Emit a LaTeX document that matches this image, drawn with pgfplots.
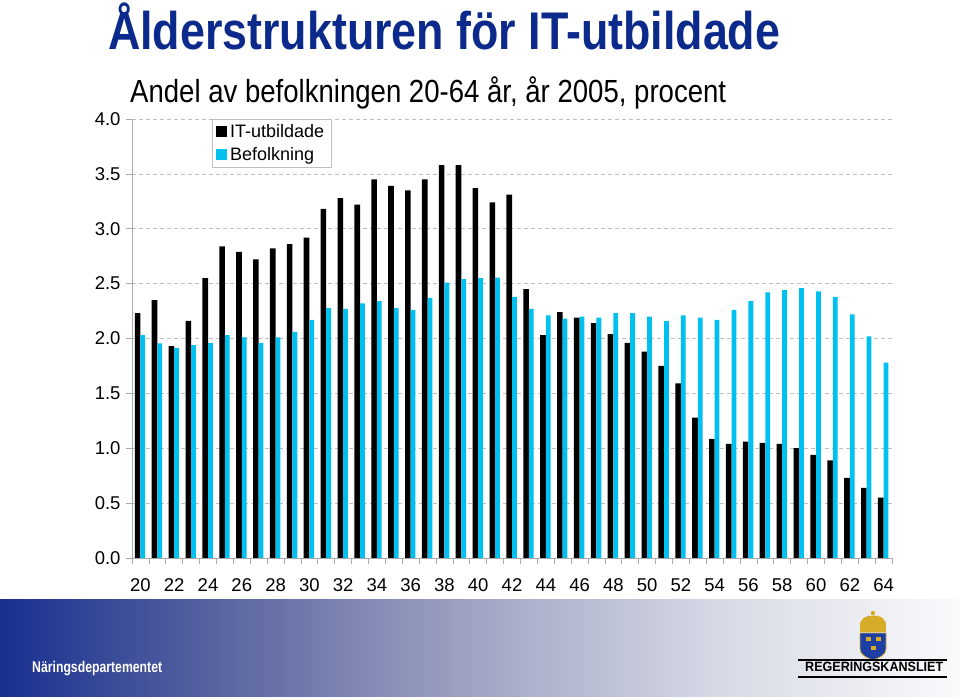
\documentclass[border=0pt]{standalone}
\usepackage{fontspec}
\setmainfont{Liberation Sans}
\usepackage{graphicx}
\usepackage{pgfplots}
\pgfplotsset{compat=1.18}
\definecolor{titleblue}{RGB}{12,42,140}
\definecolor{befcyan}{RGB}{0,192,240}
\definecolor{gridgray}{RGB}{192,192,192}
\definecolor{axisgray}{RGB}{170,170,170}
\definecolor{fA}{RGB}{25,48,145}
\definecolor{fB}{RGB}{95,105,162}
\definecolor{fC}{RGB}{162,166,196}
\definecolor{fD}{RGB}{215,218,229}
\definecolor{fE}{RGB}{250,250,252}
\definecolor{gold}{RGB}{214,172,40}
\definecolor{shieldblue}{RGB}{28,62,165}
\begin{document}
\begin{tikzpicture}[x=1bp,y=1bp]
\path[use as bounding box] (0,0) rectangle (960,700);
% footer band
\shade[left color=fA, right color=fB] (0,3) rectangle (240.6,100);
\shade[left color=fB, right color=fC] (240,3) rectangle (480.6,100);
\shade[left color=fC, right color=fD] (480,3) rectangle (720.6,100);
\shade[left color=fD, right color=fE] (720,3) rectangle (960,100);
\node[anchor=base west, inner sep=0, text=white] at (32,27)
  {\resizebox{130bp}{\height}{\fontsize{15.5bp}{17bp}\selectfont\bfseries Näringsdepartementet}};
% logo
\fill[gold] (860,68) rectangle (886,73);
\fill[gold] (860,72.5) .. controls (859,82) and (866,84.5) .. (873,84.5) .. controls (880,84.5) and (887,82) .. (886,72.5) -- cycle;
\fill[gold] (873,87) circle (2.2);
\fill[shieldblue, draw=gold, line width=0.8] (860,67) -- (886,67) -- (886,51) .. controls (886,45) and (879,42) .. (873,40) .. controls (867,42) and (860,45) .. (860,51) -- cycle;
\fill[gold] (865.5,59) rectangle +(5,4);
\fill[gold] (875.5,59) rectangle +(5,4);
\fill[gold] (870.5,50) rectangle +(5,4);
\draw[line width=1.3] (798,40) -- (947,40);
\draw[line width=1.3] (798,23) -- (947,23);
\node[anchor=base west, inner sep=0] at (805,28)
  {\resizebox{138bp}{\height}{\fontsize{13.5bp}{15bp}\selectfont\bfseries REGERINGSKANSLIET}};
% titles
\node[anchor=base west, inner sep=0, text=titleblue] at (108,650)
  {\resizebox{672bp}{\height}{\fontsize{53bp}{60bp}\selectfont\bfseries Ålderstrukturen för IT-utbildade}};
\node[anchor=base west, inner sep=0] at (130,597)
  {\resizebox{596bp}{\height}{\fontsize{32bp}{36bp}\selectfont Andel av befolkningen 20-64 år, år 2005, procent}};
\begin{axis}[
  at={(132bp,142bp)}, anchor=south west,
  scale only axis, width=760bp, height=439bp,
  xmin=19.5, xmax=64.5, ymin=0, ymax=4,
  axis x line*=bottom, axis y line*=left,
  axis line style={draw=axisgray, line width=0.7bp, -},
  ytick={0,0.5,...,4},
  ymajorgrids,
  grid style={draw=gridgray, dash pattern=on 4bp off 3bp, line width=0.7bp},
  yticklabel style={xshift=-2bp, /pgf/number format/.cd, fixed, fixed zerofill, precision=1},
  tick align=outside,
  major tick length=6bp,
  tick style={draw=axisgray, line width=0.7bp},
  xtick={19.5,20.5,...,64.5},
  xticklabels={},
  extra x ticks={20,22,...,64},
  extra x tick style={major tick length=0pt, xticklabel style={yshift=-17bp}},
  /pgf/number format/assume math mode=true,
  tick label style={font=\fontsize{18.5bp}{21bp}\selectfont},
  legend style={at={(0.105,1)}, anchor=north west, draw=gridgray, fill=white,
    font=\fontsize{18bp}{21bp}\selectfont, inner xsep=4bp, inner ysep=3.5bp,
    row sep=4bp, legend cell align=left,
    nodes={inner xsep=3bp}},
  legend image code/.code={\fill[#1] (0bp,-5.5bp) rectangle (11bp,5.5bp);},
]
\addplot[ybar, bar width=5.6bp, bar shift=-2.8bp, fill=black, draw=none] coordinates {
(20,2.23) (21,2.35) (22,1.93) (23,2.16) (24,2.55) (25,2.84) (26,2.79) (27,2.72) (28,2.82) (29,2.86)
(30,2.92) (31,3.18) (32,3.28) (33,3.22) (34,3.45) (35,3.39) (36,3.35) (37,3.45) (38,3.58) (39,3.58)
(40,3.37) (41,3.24) (42,3.31) (43,2.45) (44,2.03) (45,2.24) (46,2.19) (47,2.14) (48,2.04) (49,1.96)
(50,1.88) (51,1.75) (52,1.59) (53,1.28) (54,1.085) (55,1.04) (56,1.06) (57,1.05) (58,1.04) (59,1.00)
(60,0.94) (61,0.89) (62,0.73) (63,0.64) (64,0.55)};
\addlegendentry{IT-utbildade}
\addplot[ybar, bar width=4.8bp, bar shift=2.4bp, fill=befcyan, draw=none] coordinates {
(20,2.03) (21,1.955) (22,1.915) (23,1.94) (24,1.96) (25,2.03) (26,2.01) (27,1.96) (28,2.01) (29,2.06)
(30,2.17) (31,2.28) (32,2.27) (33,2.32) (34,2.34) (35,2.28) (36,2.26) (37,2.37) (38,2.51) (39,2.54)
(40,2.55) (41,2.555) (42,2.38) (43,2.27) (44,2.21) (45,2.18) (46,2.20) (47,2.19) (48,2.23) (49,2.23)
(50,2.20) (51,2.16) (52,2.21) (53,2.19) (54,2.17) (55,2.26) (56,2.34) (57,2.42) (58,2.44) (59,2.46)
(60,2.43) (61,2.38) (62,2.22) (63,2.02) (64,1.78)};
\addlegendentry{Befolkning}
\end{axis}
\end{tikzpicture}
\end{document}
